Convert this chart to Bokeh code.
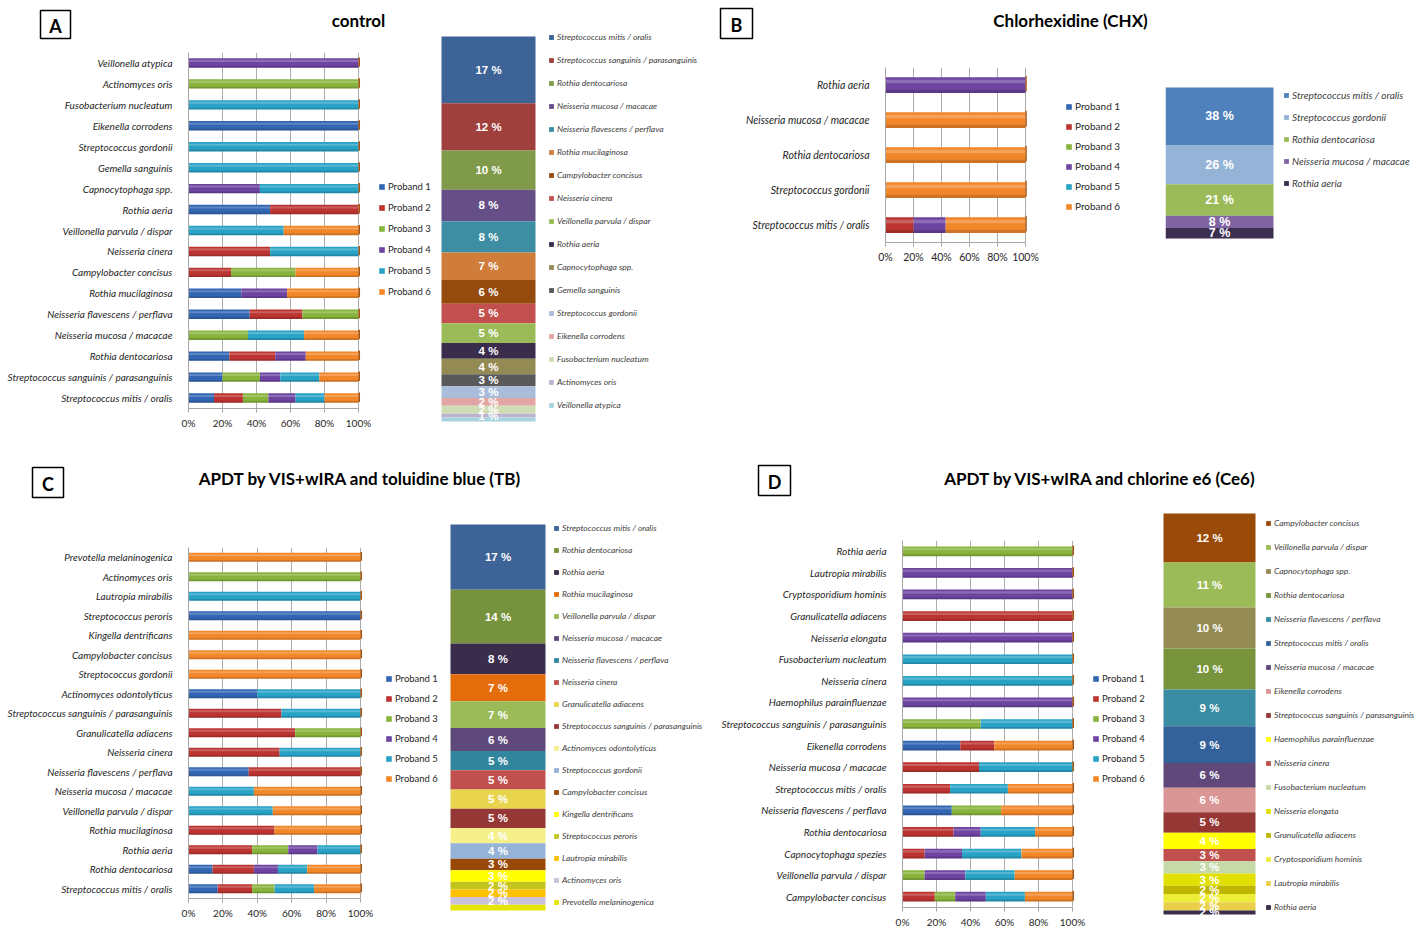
from bokeh.plotting import figure
from bokeh.models import (ColumnDataSource, FactorRange, Range1d, Legend, LegendItem,
                          FixedTicker, PrintfTickFormatter)
from bokeh.layouts import row, column
from bokeh.transform import dodge
from bokeh.embed import file_html
from bokeh.resources import INLINE
from bokeh.core.properties import value

FONT = "Lato"
NUM_FONT = "Liberation Sans"

probands = ["Proband 1", "Proband 2", "Proband 3", "Proband 4", "Proband 5", "Proband 6"]
proband_colors = ["#3366B2", "#BC3431", "#88B33C", "#6D44A0", "#28A3C6", "#F2872A"]
stack_keys = ["p1", "p2", "p3", "p4", "p5", "p6"]

# ---------------- Panel A: control ----------------
a_title = "control"
a_species = ["Veillonella atypica", "Actinomyces oris", "Fusobacterium nucleatum", "Eikenella corrodens",
             "Streptococcus gordonii", "Gemella sanguinis", "Capnocytophaga spp.", "Rothia aeria",
             "Veillonella parvula / dispar", "Neisseria cinera", "Campylobacter concisus",
             "Rothia mucilaginosa", "Neisseria flavescens / perflava", "Neisseria mucosa / macacae",
             "Rothia dentocariosa", "Streptococcus sanguinis / parasanguinis", "Streptococcus mitis / oralis"]
a_p1 = [0, 0, 0, 100, 0, 0, 0, 48, 0, 0, 0, 31, 36, 0, 24, 20, 15]
a_p2 = [0, 0, 0, 0, 0, 0, 0, 52, 0, 48, 25, 0, 31, 0, 27, 0, 17]
a_p3 = [0, 100, 0, 0, 0, 0, 0, 0, 0, 0, 38, 0, 33, 35, 0, 22, 15]
a_p4 = [100, 0, 0, 0, 0, 0, 42, 0, 0, 0, 0, 27, 0, 0, 18, 12, 16]
a_p5 = [0, 0, 100, 0, 100, 100, 58, 0, 56, 52, 0, 0, 0, 33, 0, 23, 17]
a_p6 = [0, 0, 0, 0, 0, 0, 0, 0, 44, 0, 37, 42, 0, 32, 31, 23, 20]
a_col_names = ["Streptococcus mitis / oralis", "Streptococcus sanguinis / parasanguinis", "Rothia dentocariosa",
               "Neisseria mucosa / macacae", "Neisseria flavescens / perflava", "Rothia mucilaginosa",
               "Campylobacter concisus", "Neisseria cinera", "Veillonella parvula / dispar", "Rothia aeria",
               "Capnocytophaga spp.", "Gemella sanguinis", "Streptococcus gordonii", "Eikenella corrodens",
               "Fusobacterium nucleatum", "Actinomyces oris", "Veillonella atypica"]
a_col_values = [17, 12, 10, 8, 8, 7, 6, 5, 5, 4, 4, 3, 3, 2, 2, 1, 1]
a_col_labels = ["17 %", "12 %", "10 %", "8 %", "8 %", "7 %", "6 %", "5 %", "5 %", "4 %", "4 %", "3 %",
                "3 %", "2 %", "2 %", "1 %", ""]
a_col_colors = ["#3E6497", "#A0403D", "#7F9A48", "#664E87", "#3D8DA3", "#D07C3A", "#954A0E", "#C2504E",
                "#9BBB59", "#3A2D4C", "#948A54", "#595959", "#A9BDDB", "#E3A5A3", "#CFDDB5", "#BDB2D0",
                "#A7D3DF"]

# ---------------- Panel B: Chlorhexidine ----------------
b_title = "Chlorhexidine (CHX)"
b_species = ["Rothia aeria", "Neisseria mucosa / macacae", "Rothia dentocariosa", "Streptococcus gordonii",
             "Streptococcus mitis / oralis"]
b_p1 = [0, 0, 0, 0, 0]
b_p2 = [0, 0, 0, 0, 20]
b_p3 = [0, 0, 0, 0, 0]
b_p4 = [100, 0, 0, 0, 23]
b_p5 = [0, 0, 0, 0, 0]
b_p6 = [0, 100, 100, 100, 57]
b_col_names = ["Streptococcus mitis / oralis", "Streptococcus gordonii", "Rothia dentocariosa",
               "Neisseria mucosa / macacae", "Rothia aeria"]
b_col_values = [38, 26, 21, 8, 7]
b_col_labels = ["38 %", "26 %", "21 %", "8 %", "7 %"]
b_col_colors = ["#4F81BD", "#95B3D7", "#9BBB59", "#8064A2", "#3B2E4F"]

# ---------------- Panel C: APDT + TB ----------------
c_title = "APDT by VIS+wIRA and toluidine blue (TB)"
c_species = ["Prevotella melaninogenica", "Actinomyces oris", "Lautropia mirabilis", "Streptococcus peroris",
             "Kingella dentrificans", "Campylobacter concisus", "Streptococcus gordonii",
             "Actinomyces odontolyticus", "Streptococcus sanguinis / parasanguinis", "Granulicatella adiacens",
             "Neisseria cinera", "Neisseria flavescens / perflava", "Neisseria mucosa / macacae",
             "Veillonella parvula / dispar", "Rothia mucilaginosa", "Rothia aeria", "Rothia dentocariosa",
             "Streptococcus mitis / oralis"]
c_p1 = [0, 0, 0, 100, 0, 0, 0, 40, 0, 0, 0, 35, 0, 0, 0, 0, 14, 17]
c_p2 = [0, 0, 0, 0, 0, 0, 0, 0, 54, 62, 53, 65, 0, 0, 50, 37, 24, 20]
c_p3 = [0, 100, 0, 0, 0, 0, 0, 0, 0, 38, 0, 0, 0, 0, 0, 21, 0, 13]
c_p4 = [0, 0, 0, 0, 0, 0, 0, 0, 0, 0, 0, 0, 0, 0, 0, 17, 14, 0]
c_p5 = [0, 0, 100, 0, 0, 0, 0, 60, 46, 0, 47, 0, 38, 49, 0, 25, 17, 23]
c_p6 = [100, 0, 0, 0, 100, 100, 100, 0, 0, 0, 0, 0, 62, 51, 50, 0, 31, 27]
c_col_names = ["Streptococcus mitis / oralis", "Rothia dentocariosa", "Rothia aeria", "Rothia mucilaginosa",
               "Veillonella parvula / dispar", "Neisseria mucosa / macacae", "Neisseria flavescens / perflava",
               "Neisseria cinera", "Granulicatella adiacens", "Streptococcus sanguinis / parasanguinis",
               "Actinomyces odontolyticus", "Streptococcus gordonii", "Campylobacter concisus",
               "Kingella dentrificans", "Streptococcus peroris", "Lautropia mirabilis", "Actinomyces oris",
               "Prevotella melaninogenica"]
c_col_values = [17, 14, 8, 7, 7, 6, 5, 5, 5, 5, 4, 4, 3, 3, 2, 2, 2, 1.5]
c_col_labels = ["17 %", "14 %", "8 %", "7 %", "7 %", "6 %", "5 %", "5 %", "5 %", "5 %", "4 %", "4 %",
                "3 %", "3 %", "2 %", "2 %", "2 %", ""]
c_col_colors = ["#3E6497", "#76923C", "#3A2D4C", "#E46C0A", "#9BBB59", "#5F497A", "#31859C", "#C0504D",
                "#E8D44D", "#953735", "#F6F08A", "#95B3D7", "#984807", "#FFFF00", "#C4C41E", "#FFC000",
                "#CCC1DA", "#E5E500"]

# ---------------- Panel D: APDT + Ce6 ----------------
d_title = "APDT by VIS+wIRA and chlorine e6 (Ce6)"
d_species = ["Rothia aeria", "Lautropia mirabilis", "Cryptosporidium hominis", "Granulicatella adiacens",
             "Neisseria elongata", "Fusobacterium nucleatum", "Neisseria cinera", "Haemophilus parainfluenzae",
             "Streptococcus sanguinis / parasanguinis", "Eikenella corrodens", "Neisseria mucosa / macacae",
             "Streptococcus mitis / oralis", "Neisseria flavescens / perflava", "Rothia dentocariosa",
             "Capnocytophaga spezies", "Veillonella parvula / dispar", "Campylobacter concisus"]
d_p1 = [0, 0, 0, 0, 0, 0, 0, 0, 0, 34, 0, 0, 29, 0, 0, 0, 0]
d_p2 = [0, 0, 0, 100, 0, 0, 0, 0, 0, 20, 45, 28, 0, 30, 13, 0, 19]
d_p3 = [100, 0, 0, 0, 0, 0, 0, 0, 46, 0, 0, 0, 29, 0, 0, 13, 12]
d_p4 = [0, 100, 100, 0, 100, 0, 0, 100, 0, 0, 0, 0, 0, 16, 22, 24, 18]
d_p5 = [0, 0, 0, 0, 0, 100, 100, 0, 54, 0, 55, 34, 0, 32, 35, 29, 23]
d_p6 = [0, 0, 0, 0, 0, 0, 0, 0, 0, 46, 0, 38, 42, 22, 30, 34, 28]
d_col_names = ["Campylobacter concisus", "Veillonella parvula / dispar", "Capnocytophaga spp.",
               "Rothia dentocariosa", "Neisseria flavescens / perflava", "Streptococcus mitis / oralis",
               "Neisseria mucosa / macacae", "Eikenella corrodens", "Streptococcus sanguinis / parasanguinis",
               "Haemophilus parainfluenzae", "Neisseria cinera", "Fusobacterium nucleatum",
               "Neisseria elongata", "Granulicatella adiacens", "Cryptosporidium hominis",
               "Lautropia mirabilis", "Rothia aeria"]
d_col_values = [12, 11, 10, 10, 9, 9, 6, 6, 5, 4, 3, 3, 3, 2, 2, 2, 1]
d_col_labels = ["12 %", "11 %", "10 %", "10 %", "9 %", "9 %", "6 %", "6 %", "5 %", "4 %", "3 %", "3 %",
                "3 %", "2 %", "2 %", "2 %", "2 %"]
d_col_colors = ["#9A4A08", "#9BBB59", "#948A54", "#77933C", "#3A8CA2", "#34619A", "#60497A", "#DA9694",
                "#953735", "#FFFF00", "#C0504D", "#C6D9A8", "#E2E000", "#BFB600", "#EEEE3A", "#E9CF4A",
                "#3A2D4C"]

ITEM_H = 12


def header(width, height, letter, box, title, title_pos, title_size="17px"):
    p = figure(width=width, height=height, x_range=Range1d(0, width), y_range=Range1d(height, 0),
               output_backend="svg", toolbar_location=None, min_border=0,
               x_axis_location=None, y_axis_location=None)
    p.grid.visible = False
    p.outline_line_color = None
    x0, y0, x1, y1 = box
    p.quad(left=[x0], right=[x1], top=[y0], bottom=[y1], fill_color="white",
           line_color="black", line_width=1.5)
    p.text(x=[(x0 + x1) / 2], y=[(y0 + y1) / 2 + 1], text=[letter], text_align="center",
           text_baseline="middle", text_font=value(FONT), text_font_style="bold",
           text_font_size="18px", text_color="black")
    p.text(x=[title_pos[0]], y=[title_pos[1]], text=[title], text_align="center",
           text_baseline="middle", text_font=value(FONT), text_font_style="bold",
           text_font_size=title_size, text_color="black")
    return p


def legend_loc(n, pitch, gx, gy, frame_left, frame_top, frame_h):
    spacing = int(round(pitch - ITEM_H))
    leg_h = n * ITEM_H + (n - 1) * spacing
    leg_top = gy - ITEM_H / 2
    vx = gx - frame_left
    vy = (frame_top + frame_h) - leg_top - leg_h
    return (vx, vy), spacing


def bars(species, shares, width, height, left, bar_w, top, frame_h, leg, font_size="10px",
         leg_size="9.5px", bar_h=0.45):
    data = dict(species=species)
    for k, s in zip(stack_keys, shares):
        data[k] = s
    totals = [sum(v) for v in zip(*shares)]
    data["total"] = totals
    data["cap"] = [t + 0.9 for t in totals]
    src = ColumnDataSource(data)
    frame_w = width - left
    p = figure(width=width, height=height, x_range=Range1d(0, 100.0 * frame_w / bar_w),
               y_range=FactorRange(factors=species[::-1]),
               output_backend="svg", toolbar_location=None,
               min_border_left=left, min_border_right=0,
               min_border_top=top, min_border_bottom=height - top - frame_h)
    p.outline_line_color = None
    rs = p.hbar_stack(stack_keys, y="species", height=bar_h, color=proband_colors,
                      line_color=None, source=src)
    # glossy highlight, shade and end face imitating the 3-D bars
    p.hbar_stack(stack_keys, y=dodge("species", bar_h * 0.22, range=p.y_range), height=bar_h * 0.22,
                 fill_color="white", fill_alpha=0.22, line_color=None, source=src)
    p.hbar_stack(stack_keys, y=dodge("species", -bar_h * 0.4, range=p.y_range), height=bar_h * 0.2,
                 fill_color="black", fill_alpha=0.15, line_color=None, source=src)
    p.hbar(y=dodge("species", 0.04, range=p.y_range), left="total", right="cap", height=bar_h,
           fill_color="#A8520F", line_color=None, source=src)
    ticks = [0, 20, 40, 60, 80, 100]
    p.xaxis.ticker = FixedTicker(ticks=ticks)
    p.xgrid.ticker = FixedTicker(ticks=ticks)
    p.xaxis.bounds = (0, 100)
    p.xaxis.formatter = PrintfTickFormatter(format="%d%%")
    p.xgrid.grid_line_color = "#ADADAD"
    p.ygrid.grid_line_color = None
    for ax in (p.xaxis, p.yaxis):
        ax.axis_line_color = "#A6A6A6"
        ax.major_label_text_font = FONT
        ax.major_label_text_color = "#262626"
        ax.minor_tick_line_color = None
    p.xaxis.major_tick_line_color = "#A6A6A6"
    p.xaxis.major_tick_in = 0
    p.xaxis.major_tick_out = 4
    p.xaxis.major_label_text_font_size = font_size
    p.xaxis.major_label_standoff = 4
    p.yaxis.major_tick_line_color = None
    p.yaxis.major_label_text_font_size = font_size
    p.yaxis.major_label_text_font_style = "italic"
    p.yaxis.major_label_standoff = 10
    gx, gy, pitch = leg
    loc, spacing = legend_loc(6, pitch, gx, gy, left, top, frame_h)
    items = [LegendItem(label=probands[i], renderers=[rs[i]]) for i in range(6)]
    lg = Legend(items=items, location=loc, spacing=spacing, padding=0, margin=0,
                glyph_width=7, glyph_height=7, label_height=ITEM_H, label_standoff=3,
                label_text_font=FONT, label_text_font_size=leg_size, label_text_color="#262626",
                border_line_color=None, background_fill_alpha=0)
    p.add_layout(lg)
    return p


def stack_column(names, vals, labels, colors, width, height, cbox, leg, label_size="11px",
                 leg_size="8.5px"):
    total = sum(vals)
    tops, bottoms = [], []
    c = total
    for v in vals:
        tops.append(c)
        c -= v
        bottoms.append(c)
    mids = [(t + b) / 2 for t, b in zip(tops, bottoms)]
    src = ColumnDataSource(dict(name=names, top=tops, bottom=bottoms, mid=mids, label=labels,
                                color=colors))
    cx0, cy0, cx1, cy1 = cbox
    unit = float(cx1 - cx0)
    xs = -0.5 - cx0 / unit
    s = total / float(cy1 - cy0)
    p = figure(width=width, height=height,
               x_range=Range1d(xs, xs + width / unit),
               y_range=Range1d(-(height - cy1) * s, total + cy0 * s),
               output_backend="svg", toolbar_location=None, min_border=0,
               x_axis_location=None, y_axis_location=None)
    p.grid.visible = False
    p.outline_line_color = None
    r = p.vbar(x=0, width=1, top="top", bottom="bottom", fill_color="color", line_color=None,
               source=src)
    p.text(x=0, y="mid", text="label", source=src, text_align="center", text_baseline="middle",
           text_color="white", text_font=value(NUM_FONT), text_font_style="bold",
           text_font_size=label_size)
    gx, gy, pitch = leg
    loc, spacing = legend_loc(len(names), pitch, gx, gy, 0, 0, height)
    items = [LegendItem(label=n, renderers=[r], index=i) for i, n in enumerate(names)]
    lg = Legend(items=items, location=loc, spacing=spacing, padding=0, margin=0,
                glyph_width=6, glyph_height=6, label_height=ITEM_H, label_standoff=3,
                label_text_font=FONT, label_text_font_size=leg_size, label_text_font_style="italic",
                label_text_color="#404040", border_line_color=None, background_fill_alpha=0)
    p.add_layout(lg)
    return p


# ---- Panel A ----
hA = header(440, 40, "A", (40, 10, 70, 38), a_title, (358, 20))
bA = bars(a_species, [a_p1, a_p2, a_p3, a_p4, a_p5, a_p6], 440, 400, 188, 170, 12, 356, (378, 146, 21))
cA = stack_column(a_col_names, a_col_values, a_col_labels, a_col_colors, 270, 440, (1, 36, 95, 421),
                  (108, 37, 23.1), "11.5px")
panel_a = row(column(row(hA), row(bA)), column(cA))

# ---- Panel B ----
hB = header(455, 40, "B", (10, 8, 42, 38), b_title, (360, 20))
bB = bars(b_species, [b_p1, b_p2, b_p3, b_p4, b_p5, b_p6], 455, 400, 175, 140, 27, 175, (355, 66, 20),
          font_size="10.5px", leg_size="10px")
cB = stack_column(b_col_names, b_col_values, b_col_labels, b_col_colors, 259, 440, (0, 87, 108, 238),
                  (118, 95, 21.5), "12.5px", leg_size="10px")
panel_b = row(column(row(hB), row(bB)), column(cB))

# ---- Panel C ----
hC = header(710, 80, "C", (32, 27, 63, 57), c_title, (360, 38))
bC = bars(c_species, [c_p1, c_p2, c_p3, c_p4, c_p5, c_p6], 448, 410, 188, 172, 27, 351, (385, 158, 19.6))
cC = stack_column(c_col_names, c_col_values, c_col_labels, c_col_colors, 262, 410, (2, 4, 97, 390),
                  (105, 8, 22.2), "11.5px")
panel_c = column(row(hC), row(column(bC), column(cC)))

# ---- Panel D ----
hD = header(714, 70, "D", (48, 25, 80, 55), d_title, (390, 38))
bD = bars(d_species, [d_p1, d_p2, d_p3, d_p4, d_p5, d_p6], 451, 420, 192, 170, 30, 371, (382, 172, 19.8))
cD = stack_column(d_col_names, d_col_values, d_col_labels, d_col_colors, 263, 420, (2, 3, 94, 404),
                  (104, 13, 24.2), "11.5px")
panel_d = column(row(hD), row(column(bD), column(cD)))

page = column(row(panel_a, panel_b), row(panel_c, panel_d))
open("out.html", "w").write(file_html(page, INLINE))
